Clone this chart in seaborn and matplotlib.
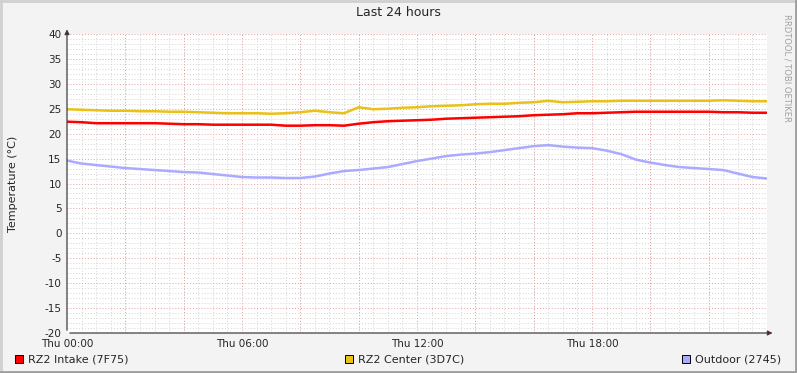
import numpy as np
import pandas as pd
import matplotlib
matplotlib.use("Agg")
import matplotlib.pyplot as plt
from matplotlib.patches import Rectangle
from matplotlib.lines import Line2D
import seaborn as sns

# -------------------------------
# Data (every 30 minutes)
# -------------------------------
hours = [i * 0.5 for i in range(49)]

intake = [22.4, 22.3, 22.1, 22.1, 22.1, 22.1, 22.1, 22.0, 21.9, 21.9, 21.8, 21.8,
          21.8, 21.8, 21.8, 21.6, 21.6, 21.7, 21.7, 21.6, 22.0, 22.3, 22.5, 22.6,
          22.7, 22.8, 23.0, 23.1, 23.2, 23.3, 23.4, 23.5, 23.7, 23.8, 23.9, 24.1,
          24.1, 24.2, 24.3, 24.4, 24.4, 24.4, 24.4, 24.4, 24.4, 24.3, 24.3, 24.2, 24.2]

center = [24.9, 24.8, 24.7, 24.6, 24.6, 24.5, 24.5, 24.4, 24.4, 24.3, 24.2, 24.1,
          24.1, 24.1, 24.0, 24.1, 24.3, 24.6, 24.3, 24.1, 25.3, 24.9, 25.0, 25.2,
          25.3, 25.5, 25.6, 25.7, 25.9, 26.0, 26.0, 26.2, 26.3, 26.6, 26.3, 26.4,
          26.5, 26.5, 26.6, 26.6, 26.6, 26.6, 26.6, 26.6, 26.6, 26.7, 26.6, 26.5, 26.5]

outdoor = [14.6, 14.0, 13.7, 13.4, 13.1, 12.9, 12.7, 12.5, 12.3, 12.2, 11.9, 11.6,
           11.3, 11.2, 11.2, 11.1, 11.1, 11.4, 12.0, 12.5, 12.7, 13.0, 13.3, 13.9,
           14.5, 15.0, 15.5, 15.8, 16.0, 16.3, 16.7, 17.1, 17.5, 17.7, 17.4, 17.2,
           17.1, 16.6, 15.9, 14.8, 14.2, 13.7, 13.3, 13.1, 12.9, 12.7, 12.0, 11.3, 11.0]

series_names = ["RZ2 Intake (7F75)", "RZ2 Center (3D7C)", "Outdoor (2745)"]
series_colors = ["#FF0000", "#EAC117", "#AAAAFF"]
x_tick_labels = ["Thu 00:00", "Thu 06:00", "Thu 12:00", "Thu 18:00"]

df = pd.DataFrame({
    "hour": hours * 3,
    "temp": intake + center + outdoor,
    "sensor": [series_names[0]] * len(hours) + [series_names[1]] * len(hours)
              + [series_names[2]] * len(hours),
})

# -------------------------------
# Plot
# -------------------------------
sns.set_style("white")
plt.rcParams["font.family"] = ["DejaVu Sans"]
plt.rcParams["axes.unicode_minus"] = False

fig = plt.figure(figsize=(7.97, 3.73), dpi=100, facecolor="#F3F3F3")
ax = fig.add_axes([67 / 797, 1 - 333 / 373, 700 / 797, 299 / 373])
ax.set_facecolor("white")

sns.lineplot(data=df, x="hour", y="temp", hue="sensor", palette=series_colors,
             linewidth=1.8, legend=False, ax=ax, zorder=3)

ax.set_xlim(0, 24)
ax.set_ylim(-20, 40)

# grid: minor gray dotted, major red dotted
ax.set_xticks(np.arange(0, 24.01, 0.5), minor=True)
ax.set_yticks(np.arange(-20, 40.01, 1), minor=True)
ax.grid(which="minor", color="#D4D4D4", linestyle=(0, (1, 2)), linewidth=0.7)
for h in np.arange(2, 24, 2):
    ax.axvline(h, color="#E3A0A0", linestyle=(0, (1, 2)), linewidth=0.7, zorder=1)
for v in np.arange(-15, 41, 5):
    ax.axhline(v, color="#E3A0A0", linestyle=(0, (1, 2)), linewidth=0.7, zorder=1)

ax.set_xticks([0, 6, 12, 18])
ax.set_xticklabels(x_tick_labels)
ax.set_yticks(np.arange(-20, 41, 5))
ax.tick_params(axis="both", which="major", labelsize=7.5, length=3, width=0.8,
               color="#404040", pad=1)
ax.tick_params(axis="both", which="minor", length=0)

for s in ax.spines.values():
    s.set_visible(False)

ax.set_xlabel("")
ax.set_ylabel("Temperature (°C)", fontsize=8, labelpad=19)
fig.text(0.5, 1 - 13 / 373, "Last 24 hours", fontsize=9, ha="center", va="center")

# axis lines with arrows
ax.annotate("", xy=(1.012, 0), xytext=(0, 0), xycoords="axes fraction",
            arrowprops=dict(arrowstyle="-|>", color="#404040", lw=0.9,
                            mutation_scale=7, fc="#800000", ec="#404040"))
ax.annotate("", xy=(0, 1.025), xytext=(0, 0), xycoords="axes fraction",
            arrowprops=dict(arrowstyle="-|>", color="#404040", lw=0.9,
                            mutation_scale=7, fc="#800000", ec="#404040"))

# legend
legend_x = [15, 345, 682]
for name, color, lx in zip(series_names, series_colors, legend_x):
    fig.patches.append(Rectangle((lx / 797, 1 - 363 / 373), 8 / 797, 8 / 373,
                                 transform=fig.transFigure, facecolor=color,
                                 edgecolor="black", linewidth=0.7))
    fig.text((lx + 13) / 797, 1 - 359 / 373, name, fontsize=8, va="center")

fig.text(787 / 797, 1 - 14 / 373, "RRDTOOL / TOBI OETIKER", rotation=-90,
         fontsize=6, color="#A0A0A0", va="top", ha="center")

# frame
fig.add_artist(Line2D([0, 1], [0.998, 0.998], transform=fig.transFigure, color="#D0D0D0", lw=2))
fig.add_artist(Line2D([0.001, 0.001], [0, 1], transform=fig.transFigure, color="#D0D0D0", lw=2))
fig.add_artist(Line2D([0, 1], [0.002, 0.002], transform=fig.transFigure, color="#9E9E9E", lw=2))
fig.add_artist(Line2D([0.999, 0.999], [0, 1], transform=fig.transFigure, color="#9E9E9E", lw=2))

fig.savefig("out.png", dpi=100, facecolor=fig.get_facecolor())
